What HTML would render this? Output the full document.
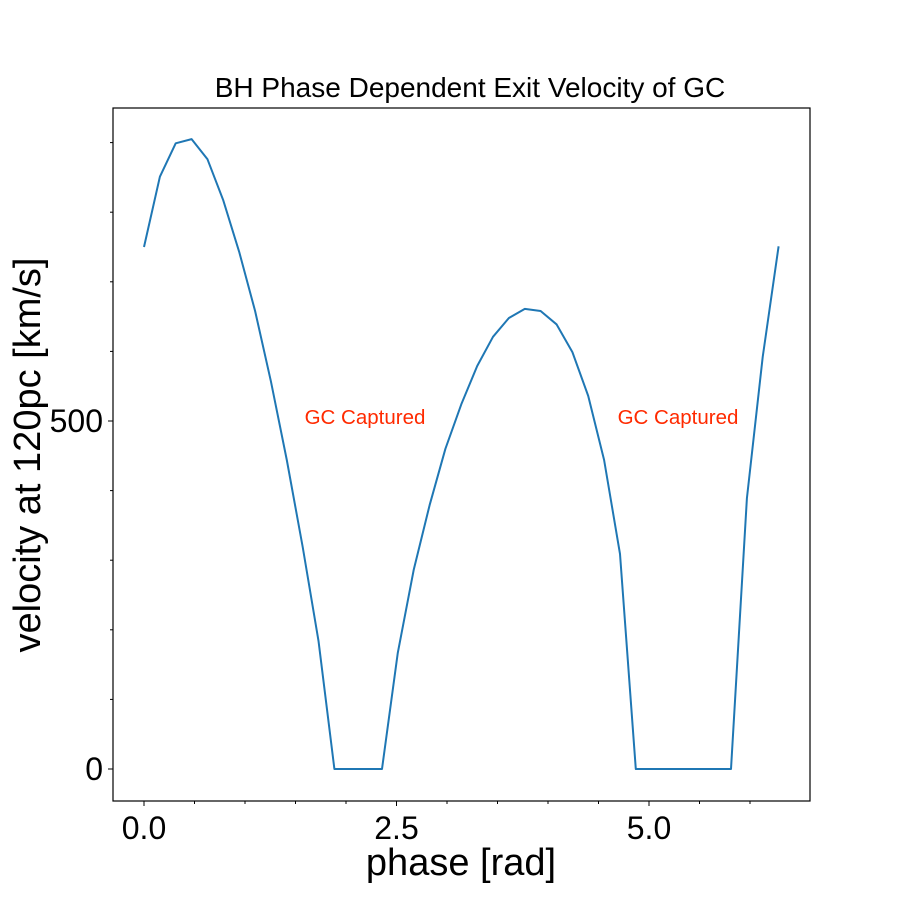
<!DOCTYPE html>
<html><head><meta charset="utf-8"><style>
body{margin:0;background:#fff}
svg{display:block;font-family:"Liberation Sans",sans-serif}
</style></head><body>
<svg id="chart" width="900" height="900">
<rect x="0" y="0" width="900" height="900" fill="#fff"/>
<text x="470" y="97" font-size="28" text-anchor="middle">BH Phase Dependent Exit Velocity of GC</text>
<g id="ticks"></g>
<path id="line" fill="none" stroke="#1f77b4" stroke-width="2" stroke-linejoin="round"/>
<rect x="113" y="108" width="697" height="693" fill="none" stroke="#000" stroke-width="1.2"/>
<text x="365" y="424" font-size="20.5" fill="#ff2a00" text-anchor="middle">GC Captured</text>
<text x="678" y="424" font-size="20.5" fill="#ff2a00" text-anchor="middle">GC Captured</text>
<text x="461" y="875" font-size="38" text-anchor="middle">phase [rad]</text>
<text transform="translate(40,455) rotate(-90)" font-size="38" text-anchor="middle">velocity at 120pc [km/s]</text>
</svg>
<script>
const velocities=[750,851,899,905,876,817,743,658,557,444,319,184,0,0,0,0,167,286,379,460,524,579,621,648,661,658,639,599,536,444,309,0,0,0,0,0,0,0,389,592,751];
const xTicks=[0,2.5,5];
const xTickLabels=["0.0","2.5","5.0"];
const yTicks=[0,500];
const yTickLabels=["0","500"];
const NS="http://www.w3.org/2000/svg";
const sx=v=>144+v*101.0;
const sy=v=>769-v*0.696;
const n=velocities.length;
const phases=velocities.map((_,i)=>i*2*Math.PI/(n-1));
let d="";
velocities.forEach((v,i)=>{d+=(i?"L":"M")+sx(phases[i]).toFixed(1)+","+sy(v).toFixed(1);});
document.getElementById("line").setAttribute("d",d);
const g=document.getElementById("ticks");
function mk(tag,attrs,txt){const e=document.createElementNS(NS,tag);for(const k in attrs)e.setAttribute(k,attrs[k]);if(txt!==undefined)e.textContent=txt;g.appendChild(e);return e;}
xTicks.forEach((t,i)=>{
 const l=mk("line",{x1:sx(t),x2:sx(t),y1:801,y2:806,stroke:"#000"});
 
 
 const tx=mk("text",{x:sx(t),y:839,"font-size":32,"text-anchor":"middle"},xTickLabels[i]);
 
 
});
for(let t=0.5;t<=6.01;t+=0.5){if(Math.abs(t%2.5)<1e-6)continue;
 const l=mk("line",{x1:sx(t),x2:sx(t),y1:801,y2:804,stroke:"#000"});
 
 }
yTicks.forEach((t,i)=>{
 const l=mk("line",{x1:108,x2:113,y1:sy(t),y2:sy(t),stroke:"#000"});
 
 
 const tx=mk("text",{x:103,y:sy(t)+11,"font-size":32,"text-anchor":"end"},yTickLabels[i]);
 
 
});
for(let t=100;t<=900;t+=100){if(t===500)continue;
 const l=mk("line",{x1:110,x2:113,y1:sy(t),y2:sy(t),stroke:"#000"});
 
 }
</script>
</body></html>
